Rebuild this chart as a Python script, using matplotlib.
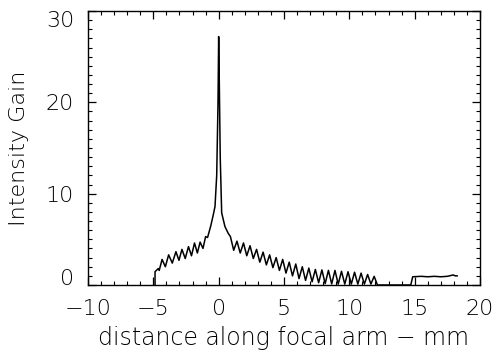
import matplotlib
matplotlib.use("Agg")
import matplotlib.pyplot as plt
from matplotlib.ticker import MultipleLocator

# distance along focal arm (mm) and intensity gain
dist = [-4.87, -4.87, -4.62, -4.55,
        -4.33, -4.08, -3.83, -3.55, -3.27, -3.04, -2.81, -2.56, -2.31, -2.08,
        -1.85, -1.63, -1.42, -1.20, -1.00, -0.85, -0.60, -0.41, -0.28, -0.15,
        -0.05, 0.00, 0.05, 0.12, 0.23, 0.48, 0.73,
        0.90, 1.15, 1.40, 1.65, 1.90, 2.15, 2.40, 2.65, 2.90, 3.15, 3.40, 3.65,
        3.90, 4.15, 4.40, 4.65, 4.90, 5.15, 5.40, 5.65, 5.90, 6.15, 6.40, 6.65,
        6.90, 7.15, 7.40, 7.65, 7.90, 8.15, 8.40, 8.65, 8.90, 9.15, 9.40, 9.65,
        9.90, 10.15, 10.40, 10.65, 10.90, 11.15, 11.40, 11.65, 11.90, 12.15,
        14.70, 14.85, 15.50, 16.00, 16.50, 17.00, 17.50, 17.80, 17.95, 18.10, 18.25]
gain = [0.0, 1.46, 1.8, 1.6,
        2.8, 2.0, 3.3, 2.4, 3.65, 2.7, 3.9, 2.9, 4.2, 3.2,
        4.6, 3.5, 4.7, 4.0, 5.3, 5.2, 6.5, 7.7, 8.6, 12.0,
        20.0, 27.2, 22.0, 14.0, 7.9, 6.4, 5.66,
        5.3, 3.8, 4.8, 3.5, 4.6, 3.2, 4.3, 2.9, 3.9, 2.5, 3.6, 2.2,
        3.3, 1.9, 3.0, 1.6, 2.8, 1.3, 2.5, 1.0, 2.3, 0.7, 2.0, 0.5,
        1.85, 0.35, 1.7, 0.25, 1.65, 0.15, 1.6, 0.12, 1.6, 0.1, 1.5, 0.1,
        1.45, 0.1, 1.4, 0.1, 1.3, 0.1, 1.15, 0.1, 0.95, 0.0,
        0.0, 0.9, 0.95, 0.9, 0.95, 0.9, 0.95, 1.05, 1.1, 1.0, 1.0]

x_ticks = [-10, -5, 0, 5, 10, 15, 20]
x_ticklabels = ["\u221210", "\u22125", "0", "5", "10", "15", "20"]
y_ticks = [0, 10, 20, 30]
y_ticklabels = ["0", "10", "20", "30"]

plt.rcParams['font.family'] = ['DejaVu Sans']
fig = plt.figure(figsize=(4.95, 3.56), dpi=100)
ax = fig.add_axes([88/495, 1-285/356, (480-88)/495, (285-11)/356])
ax.plot(dist, gain, color='black', lw=1.1, solid_joinstyle='round')
ax.set_xlim(-10, 20)
ax.set_ylim(0, 30)
ax.set_xticks(x_ticks)
ax.set_xticklabels(x_ticklabels)
ax.set_yticks(y_ticks)
ax.set_yticklabels(y_ticklabels)
ax.xaxis.set_minor_locator(MultipleLocator(1))
ax.yaxis.set_minor_locator(MultipleLocator(1))
ax.tick_params(which='both', direction='in', top=True, right=True, colors='black',
               labelcolor='black', labelsize=16)
ax.tick_params(which='major', length=6, width=0.9)
ax.tick_params(axis='x', which='major', pad=10)
ax.tick_params(axis='y', which='major', pad=10)
ax.tick_params(which='minor', length=3, width=0.8)
ylabels = ax.get_yticklabels()
ylabels[0].set_va('baseline')
ylabels[-1].set_va('top')
for t in ax.get_xticklabels() + ax.get_yticklabels():
    t.set_fontweight('light')
for s in ax.spines.values():
    s.set_linewidth(1.0)
ax.set_xlabel("distance along focal arm \u2212 mm", fontsize=17, color='black',
              labelpad=5, fontweight='light')
ax.set_ylabel("Intensity Gain", fontsize=16, color='black', labelpad=12,
              fontweight='light')
fig.savefig("out.png", dpi=100)
